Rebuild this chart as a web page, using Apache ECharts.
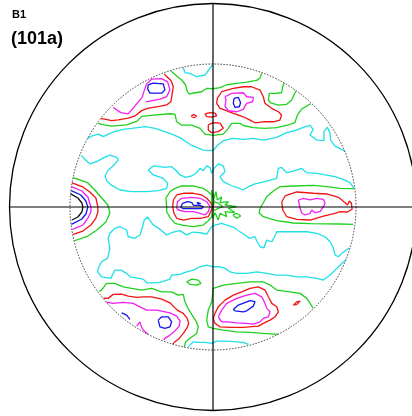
<!DOCTYPE html>
<html>
<head>
<meta charset="utf-8">
<script src="https://cdn.jsdelivr.net/npm/echarts@6/dist/echarts.min.js"></script>
<style>html,body{margin:0;padding:0;background:#fff}#c{width:412px;height:416px}</style>
</head>
<body>
<div id="c"></div>
<script>
// Projected pole-figure coordinates: inner (dashed) circle radius = 100 units
const INNER_R = 100;
const OUTER_R = 142.3;
const titleTop = 'B1';
const titleMain = '(101a)';

// ---- cyan level ----
const cyanTop = [[-21,97.5],[-19.6,94],[-16.1,93.4],[-11.4,91.1],[-5.6,92.3],[-0.5,99.3]];
const cyanUpper = [[-87.6,47.8],[-84.8,49.6],[-80.2,51],[-76.7,49.2],[-73.2,51],[-68.5,52.9],[-62.7,54.3],[-56.9,55],[-47.5,56.2],[-40.5,55],[-34.7,53.1],[-28.9,51],[-23.1,48.5],[-19.6,46.1],[-15.4,43.3],[-11.4,41.7],[-6.8,39.8],[0,39.4],[3.5,43.5],[7.2,46.4],[14.2,48],[21.2,47.3],[28.2,48],[35.2,46.8],[44.5,48.7],[51.5,52],[57.3,53.4],[63.1,55.7],[67.8,57.1],[70.1,54.3],[67.8,50.3],[72.5,46.8],[77.6,46.4],[77.6,52.7],[79.9,55.7],[81.8,52],[82.2,46.8],[85.3,42.6],[89.9,40.3],[92.3,39.1]];
const cyanMid = [[-92.3,36.1],[-89,32.9],[-86,30.1],[-81.3,31.7],[-76,34.7],[-72,36.3],[-67.3,34.7],[-66.2,32.9],[-68.5,30.1],[-73.6,25.4],[-75.5,21.7],[-74.3,18.4],[-70.8,15.1],[-65,11.9],[-56.9,10.7],[-46.4,10.7],[-38.2,11.4],[-32.4,13],[-31.7,16.5],[-34.7,20],[-41.7,22.4],[-45.2,25.9],[-41.7,28.7],[-33.6,27.7],[-28.9,28.2],[-25.4,25.2],[-23.1,22.4],[-19.1,20.7],[-14.9,21.7],[-11.4,24],[-9.1,27],[-6.8,25.4],[-4.4,28.7],[-2.1,27.7],[-0.9,23.5],[0.7,27],[3.7,30.1],[7.2,28.7],[8.4,24.7],[4.9,21.2],[7.2,17.7],[11.9,15.4],[16.5,13.7],[21.2,11.9],[24.7,14.2],[29.4,16.1],[36.3,17.7],[44.5,20],[45.7,27],[48,27.7],[51.5,24],[57.3,25.4],[62,27],[65.5,24],[72.5,23.5],[78.3,22.4],[85.3,21.2],[91.1,19.3],[95.8,17],[98.6,13]];
const cyanLowerBand = [[95.2,-28.7],[90.1,-32.4],[87.7,-34.8],[85.4,-33.6],[84.2,-28.9],[81.9,-24.3],[78.4,-20.8],[72.6,-18.4],[65.6,-17.3],[58.6,-17.3],[51.6,-17.3],[44.6,-17.3],[43.4,-20.1],[41.1,-24.3],[37.6,-23.1],[35.7,-28.5],[32.9,-27.8],[30.6,-23.8],[29.4,-20.8],[25.4,-21.9],[23.1,-20.1],[18.9,-17.3],[14.2,-14],[9.6,-12.6],[6.1,-11.4],[1.4,-12.6],[-0.9,-13.8],[-4.4,-19],[-9.1,-18],[-13.8,-17.5],[-18.4,-19.5],[-23.1,-16.5],[-27.8,-17.5],[-32.4,-19.5],[-37.1,-15.5],[-41.8,-12.5],[-45.7,-7],[-48.1,-9.1],[-49.5,-14.9],[-51.1,-19.6],[-54.6,-21.9],[-59.3,-20.8],[-60.4,-16.1],[-65.1,-13.8],[-68.6,-14.9],[-72.1,-18.4],[-73.3,-21.7],[-72.1,-28.9],[-73.7,-35.9],[-77.9,-38.3],[-80.3,-42.9],[-80.7,-45.3],[-77.9,-48.8],[-71.4,-49.9],[-69.8,-46.4],[-68.6,-44.1],[-64.4,-44.1],[-60.4,-46.4],[-58.1,-48.8],[-48.8,-50.4],[-46.4,-53],[-41.8,-53],[-37.1,-52.7],[-30.1,-50.4],[-28.9,-47.6],[-23.1,-47.1],[-18.4,-45.3],[-13.8,-44.1],[-9.1,-41.8],[-4.4,-40.6],[0,-41.8],[4.9,-41.8],[8.4,-42.9],[11.9,-45.3],[16.6,-46.4],[23.6,-46.4],[30.6,-45.3],[37.6,-46.4],[44.6,-47.6],[51.6,-47.6],[58.6,-48.8],[65.6,-48.8],[72.6,-49.9],[77.2,-51.1],[81.9,-47.6],[86.6,-42.9],[88.9,-40.6],[93.1,-36.8]];
const cyanBottom = [[-17.3,-97.8],[-13.8,-94.3],[-10.3,-94.7],[-5.6,-94.7],[-0.9,-95.4],[2.6,-93.8],[9.6,-93.8],[16.6,-94.3],[21.2,-94.7],[24.7,-96.1]];
const cyanHoles = [[-56.9,29.4],[-55.7,23.6],[-44,-2.3],[-31.2,-24.2],[-29.6,-31.2],[-10.3,-34.7],[2.6,-23.1],[7.2,-22.6],[10.7,-16.1],[18.9,-14.9],[29.4,-5.6],[38.7,-12.6],[40.3,-17.2],[48.7,-37],[79.5,-40.5],[31,39.8],[28.2,18.9],[14.2,16.6],[11.9,92.3],[20,95.5]];

// ---- green level ----
const greenLeft = [[-97.8,20.6],[-93.1,18.9],[-87.5,16.8],[-82.6,11.9],[-78.4,7],[-73.5,1.4],[-72.1,-4.2],[-74.9,-10.5],[-81.2,-16.1],[-87.5,-20.3],[-96.8,-23.6]];
const greenTopMain = [[-80.5,58.5],[-76,57.5],[-70.9,56.5],[-60.4,57.5],[-53.4,59.8],[-49.9,63.4],[-41.8,64.3],[-30.1,65.2],[-26.6,65],[-25.4,59.6],[-21.9,57.3],[-14.9,57.3],[-9.1,55],[-5.6,51],[0.2,50.1],[7.2,51],[10.7,55],[13,58.5],[18.9,58.5],[21.2,57],[28.2,55.5],[36.3,55],[44.5,55.5],[52.7,57.5],[57.3,59],[59,64.3],[62,68.5],[65.5,70.5],[68.3,72.3]];
const greenTopDip = [[-29.4,95.1],[-25.4,91.6],[-21.9,88.8],[-19.1,85.3],[-18.2,81.3],[-16.8,79],[-12.6,79.9],[-7.9,80.6],[-4.4,82.9],[0,82.7],[4.9,83.5],[9.6,85.5],[16.5,86.5],[23.5,87.3],[30.5,88.5],[32.9,90.3],[34,93.4]];
const greenTopRight = [[49.6,86.7],[48.7,84.1],[48,79.9],[43.3,79.5],[39.4,79.5],[38.7,74.8],[40.3,72.9],[45.7,71.3],[51.5,71.8],[55,74.8],[56.6,78.3],[58,81.3]];
const greenCentre = [[-32.4,0.2],[-32.9,6.1],[-30.1,10.7],[-26.6,13],[-21.9,14.7],[-13.7,14.7],[-6.8,13],[-3.3,10.7],[-0.9,8.4],[0.7,4.9],[0.2,-0.9],[-0.9,-6.8],[-3.3,-9.6],[-6.8,-12.6],[-13.7,-13.7],[-20.7,-12.8],[-26.6,-11.4],[-30.1,-7.2],[-32.4,-3.3]];
const greenStar = [[-0.9,11.9],[0.7,6.1],[2.1,10.7],[3,4.9],[6.1,7.2],[4.9,3],[10.7,3.7],[8.4,1.4],[16.6,0.2],[10.7,-0.9],[15.4,-4],[8.4,-3.3],[9.6,-6.8],[4.9,-4.4],[3.7,-9.1],[1.4,-4],[-0.2,-7.9],[-0.9,-2.1]];
const greenStarInner = [[0.2,3.7],[3.7,2.6],[7.2,0.2],[3.7,-0.9],[0.7,-2.6],[-0.2,0.2]];
const greenSpot = [[13.8,-5.6],[16.6,-4.4],[19.4,-6.3],[16.6,-7.9]];
const greenRight = [[98.5,12.8],[88.8,13],[79.5,14.2],[70.1,15.1],[56.2,14.7],[46.8,14.2],[42.2,11.2],[37.5,7.2],[35.2,3],[32.9,-0.9],[32.2,-4],[35.2,-6.8],[39.8,-8.2],[44.5,-9.6],[56.2,-11.2],[67.8,-11.6],[79.5,-11.8],[88.8,-11.9],[98.1,-12.2]];
const greenLowRight = [[70,-70.7],[69.1,-69.8],[67.9,-67.4],[65.6,-63.9],[60.9,-60.4],[53.9,-59.3],[44.6,-58.1],[39.9,-54.6],[35.2,-52.3],[25.9,-52.3],[16.6,-53.4],[7.2,-54.6],[0.2,-56.9],[-0.9,-66.3],[-3.3,-72.1],[-4.4,-79.1],[-3.3,-83.8],[0.2,-84.9],[7.2,-86.1],[16.6,-87.3],[25.9,-87.7],[35.2,-88.4],[45.5,-89.1]];
const greenLowLeft = [[-79.5,-59],[-77.9,-58.1],[-74.4,-53.4],[-68.6,-53.4],[-62.8,-55.8],[-56.9,-56.9],[-49.9,-58.1],[-42.9,-56.9],[-35.9,-59.3],[-28.9,-59.3],[-24.3,-61.6],[-20.8,-61.1],[-19.6,-66.3],[-17.7,-70.5],[-14.9,-75.1],[-11.9,-79.8],[-10.3,-83.8],[-11.4,-88.4],[-15.4,-91.2],[-19.1,-94.3],[-20.1,-97.8]];
const greenLowSpot = [[-18.4,-52.3],[-14.9,-50.4],[-10.3,-51.1],[-8.4,-53.4],[-11.4,-54.6],[-16.1,-54.1]];

// ---- red level ----
const redLeft = [[-98.6,16.9],[-91,14],[-86.1,10.5],[-81.9,6.3],[-80.5,0],[-80.5,-3.5],[-81.9,-7.7],[-85.4,-12.6],[-91,-16.8],[-97.8,-19.1]];
const redTopLeft = [[-78.3,61.8],[-75.6,61.4],[-70.9,60.4],[-66.3,60.9],[-59.3,62.1],[-54.6,63.7],[-49.9,67.4],[-45.3,69.1],[-38.3,70.2],[-32.4,71.4],[-29.4,73.7],[-28.5,79.6],[-27.8,84.2],[-29.4,88.4],[-32.4,91.2],[-34.1,93.1]];
const redSpotA = [[-15.4,63.5],[-13.4,64.6],[-11.4,63.5],[-13.4,62.4]];
const redSpotB = [[-5.6,65.1],[-2.1,66],[1.4,65.6],[2.6,63.7],[-0.9,62.8],[-4.4,63.2]];
const redSpotC = [[-3.3,57.4],[0.2,59],[4.9,58.6],[7.2,55.1],[3.7,52.7],[-0.9,52],[-3.3,53.9]];
const redTopCentre = [[3,76],[6.1,80.6],[14.2,82.9],[21.2,84.1],[27,84.1],[32.9,81.8],[35.2,77.1],[36.3,72.5],[41,69],[45.7,66.6],[48,64.3],[46.8,60.8],[42.2,59.6],[35.2,59.6],[29.4,58.9],[25.9,60.8],[21.2,63.1],[14.2,65.5],[8.4,67.8],[4.9,69],[2.6,72.5]];
const redCentre = [[-27.7,4.9],[-25.4,8.4],[-20.7,9.6],[-13.7,9.6],[-7.9,8.4],[-4.4,6.1],[-2.1,3.7],[-0.2,0.2],[-1.6,-3.3],[-3.3,-6.8],[-9.1,-7.9],[-14.9,-7.9],[-20.7,-9.1],[-25.4,-7.9],[-27.3,-4.4],[-28.2,0.2]];
const redRight = [[48.1,3.7],[50.4,7.7],[58.6,10.5],[70.2,9.6],[79.6,9.1],[87.7,6.8],[92.4,3],[94,1.4],[95.4,4.2],[96.8,2.6],[97.3,-1.6],[94,-3.5],[88.9,-3.3],[85.4,-4.4],[77.2,-6.3],[67.9,-9.1],[58.6,-8.6],[51.6,-6.8],[48.8,-2.1]];
const redLowRight = [[1.4,-74.4],[3.7,-69.8],[8.4,-65.1],[14.2,-61.6],[20.1,-59.3],[25.9,-56.9],[31.7,-55.8],[36.4,-58.1],[38.7,-62.8],[41.1,-67.4],[44.6,-69.8],[45.7,-73.3],[43.4,-76.8],[39.9,-79.1],[35.2,-81.4],[31.7,-83.3],[21.2,-84.2],[11.9,-84.2],[4.9,-83.8],[1.4,-81.4],[0.2,-77.9]];
const redLowSpot = [[56.2,-68.6],[58.6,-66.3],[60.9,-65.8],[58.6,-68.1]];
const redLowLeft = [[-76.5,-63.8],[-73.3,-63.9],[-69.8,-61.1],[-63.9,-60.9],[-59.3,-62.3],[-53.4,-63.2],[-48.8,-62.8],[-42.9,-62.8],[-35.9,-64.4],[-30.1,-67],[-27.8,-69.3],[-25,-72.1],[-20.8,-74.4],[-18,-77.9],[-17,-81.4],[-18.4,-84.9],[-20.8,-88.4],[-23.6,-91.9],[-26.6,-94.3],[-28.2,-95.9]];

// ---- magenta level ----
const magLeft = [[-99,14.2],[-91.7,11.2],[-87.5,7],[-85.4,0],[-85.4,-3.5],[-87.5,-7.7],[-91,-12.6],[-98.2,-15.6]];
const magTopLeft = [[-69.8,69.6],[-64.4,66],[-59.3,65.1],[-55.8,69.1],[-52.7,73],[-49.5,76.8],[-48.1,81.4],[-46.4,86.1],[-42.9,89.4],[-35.9,89.8],[-31.7,87.5],[-30.1,81.9],[-32.4,77.2],[-37.1,75.4],[-42.5,74.4],[-47,73.5]];
const magTopCentre = [[8.4,77.1],[13,79.5],[21.2,79.9],[23.5,77.1],[28.2,76.7],[27.7,73.6],[23.5,72.5],[21.2,68.3],[16.5,66.6],[10.7,67.3],[8.4,70.6],[9.1,74.8]];
const magCentre = [[-25.4,-0.9],[-24.9,3.7],[-21.9,6.1],[-14.9,6.8],[-9.1,6.1],[-4.4,3.7],[-2.1,0.2],[-3.3,-3.3],[-5.6,-5.6],[-9.1,-4.4],[-13.7,-3.3],[-19.6,-3.3],[-24.2,-2.1]];
const magRight = [[59.7,4.9],[63.2,6.1],[67.9,4.9],[72.5,6.1],[77.2,5.4],[78.4,2.6],[77.2,0.2],[74.9,-3.3],[71.4,-4],[69.1,-2.1],[67.9,-4.4],[64.4,-5.6],[62.1,-4.4],[60.9,-0.9]];
const magLowRight = [[3.7,-76.8],[6.1,-72.1],[9.6,-67.4],[16.6,-63.9],[23.6,-61.6],[29.4,-60.4],[34.1,-62.8],[36.4,-67.4],[37.6,-70.9],[39.9,-73.3],[38.7,-76.8],[35.2,-77.9],[32.9,-80.3],[28.2,-81.9],[23.6,-81.4],[16.6,-81],[10.7,-80.3],[6.1,-80.3]];
const magLowLeft = [[-74.5,-66.5],[-69.8,-67.4],[-62.8,-66.7],[-55.8,-67.4],[-51.1,-69.8],[-46.4,-72.1],[-39.4,-72.1],[-30.1,-74],[-25.4,-76.3],[-23.1,-79.6],[-23.6,-83.3],[-26.6,-86.6],[-30.1,-89.6],[-33.6,-91.9],[-34.5,-93]];
const magLowLeft2 = [[-53.4,-83.3],[-51.1,-80.3],[-49.9,-84.2],[-47.6,-87.3],[-45.5,-89]];

// ---- blue level ----
const blueLeft = [[-99.2,11.4],[-92.4,8.4],[-88.9,4.2],[-87.5,0],[-88.9,-4.9],[-91.7,-8.4],[-99,-12.1]];
const blueTopLeft = [[-45.3,85.4],[-41.8,86.6],[-34.8,86.1],[-33.6,81.9],[-35.9,79.6],[-44.1,79.6],[-45.7,82.4]];
const blueTopCentre = [[14.7,76],[17.7,76.7],[19.3,72.9],[18.4,70.1],[15.4,69.7],[14.2,72.5]];
const blueCentre = [[-22.6,-0.2],[-21.2,2.6],[-17.9,3.7],[-14.7,3],[-13.7,1.2],[-9.6,1.2],[-6.8,0.2],[-7.9,-1.2],[-13.7,-1.2],[-20.7,-1.2]];
const blueCentreBit = [[-11.2,3.3],[-8.6,2.3],[-10.5,2.1]];
const blueLowRight = [[14.2,-71.6],[17.7,-68.6],[25.9,-65.5],[29.4,-66.2],[28.2,-69.3],[23.6,-72.6],[21.2,-73.3],[15.4,-72.6]];
const blueLowLeft = [[-38.3,-79.1],[-35.9,-76.8],[-31.3,-76.8],[-28.9,-80.3],[-30.1,-83.8],[-33.6,-84.9],[-37.1,-83.8]];
const blueLowLeftBit = [[-63.9,-74],[-60.4,-75.6],[-58.1,-78.6]];

// ---- black level ----
const blackLeft = [[-99.5,9.2],[-94.5,6.3],[-91.7,2.8],[-91,0],[-91.7,-3.5],[-94.5,-7],[-98.7,-9.1]];

const levelColors = {cyan:'#1fe0e6', green:'#1ed21e', red:'#f01414', magenta:'#f21ef2', blue:'#1414f0', black:'#111111'};

const contours = [
  ['cyan', cyanTop, false], ['cyan', cyanUpper, false], ['cyan', cyanMid, false], ['cyan', cyanLowerBand, false], ['cyan', cyanBottom, false],
  ['green', greenLeft, false], ['green', greenTopMain, false], ['green', greenTopDip, false], ['green', greenTopRight, false],
  ['green', greenCentre, true], ['green', greenStar, true], ['green', greenStarInner, true], ['green', greenSpot, true],
  ['green', greenRight, false], ['green', greenLowRight, false], ['green', greenLowLeft, false], ['green', greenLowSpot, true],
  ['red', redLeft, false], ['red', redTopLeft, false], ['red', redSpotA, true], ['red', redSpotB, true], ['red', redSpotC, true],
  ['red', redTopCentre, true], ['red', redCentre, true], ['red', redRight, true], ['red', redLowRight, true], ['red', redLowSpot, true], ['red', redLowLeft, false],
  ['magenta', magLeft, false], ['magenta', magTopLeft, false], ['magenta', magTopCentre, true], ['magenta', magCentre, true], ['magenta', magRight, true],
  ['magenta', magLowRight, true], ['magenta', magLowLeft, false], ['magenta', magLowLeft2, false],
  ['blue', blueLeft, false], ['blue', blueTopLeft, true], ['blue', blueTopCentre, true], ['blue', blueCentre, true], ['blue', blueCentreBit, true],
  ['blue', blueLowRight, true], ['blue', blueLowLeft, true], ['blue', blueLowLeftBit, false],
  ['black', blackLeft, false]
];

const W = 412, H = 416, CX = 213, CY = 207, PX_PER_UNIT = 1.43;
const series = contours.map(([lvl, pts, closed]) => ({
  type: 'line', data: closed ? pts.concat([pts[0]]) : pts,
  showSymbol: false, symbol: 'none', silent: true, animation: false, clip: false,
  lineStyle: {color: levelColors[lvl], width: 1.3}, z: 2
}));
series.push({
  type: 'scatter', data: cyanHoles, symbol: 'emptyCircle', symbolSize: 3.5, silent: true, animation: false,
  itemStyle: {color: '#fff', borderColor: levelColors.cyan, borderWidth: 1.2}, z: 2
});

const chart = echarts.init(document.getElementById('c'), null, {renderer: 'canvas'});
chart.setOption({
  backgroundColor: '#ffffff',
  animation: false,
  title: [
    {text: titleTop, left: 12, top: 9, padding: 0, textStyle: {fontFamily: 'Liberation Sans, Arial, sans-serif', fontWeight: 'bold', fontSize: 11, color: '#000'}},
    {text: titleMain, left: 11, top: 30, padding: 0, textStyle: {fontFamily: 'Liberation Sans, Arial, sans-serif', fontWeight: 'bold', fontSize: 18, color: '#000'}}
  ],
  grid: {left: 0, right: 0, top: 0, bottom: 0},
  xAxis: {type: 'value', min: -CX / PX_PER_UNIT, max: (W - CX) / PX_PER_UNIT, show: false},
  yAxis: {type: 'value', min: -(H - CY) / PX_PER_UNIT, max: CY / PX_PER_UNIT, show: false},
  series: series
});

const toPx = p => chart.convertToPixel({xAxisIndex: 0, yAxisIndex: 0}, p);
const c = toPx([0, 0]);
const rIn = toPx([INNER_R, 0])[0] - c[0];
const rOut = toPx([OUTER_R, 0])[0] - c[0];
chart.setOption({
  graphic: [
    {type: 'circle', silent: true, z: 5, shape: {cx: c[0], cy: c[1], r: rIn}, style: {fill: 'none', stroke: '#3a3a3a', lineWidth: 1, lineDash: [1.5, 1.5]}},
    {type: 'circle', silent: true, z: 5, shape: {cx: c[0], cy: c[1], r: rOut}, style: {fill: 'none', stroke: '#000', lineWidth: 1.3}},
    {type: 'line', silent: true, z: 6, shape: {x1: c[0] - rOut, y1: c[1], x2: c[0] + rOut, y2: c[1]}, style: {stroke: '#000', lineWidth: 1.2}},
    {type: 'line', silent: true, z: 6, shape: {x1: c[0], y1: c[1] - rOut, x2: c[0], y2: c[1] + rOut}, style: {stroke: '#000', lineWidth: 1.2}}
  ]
});
</script>
</body>
</html>
